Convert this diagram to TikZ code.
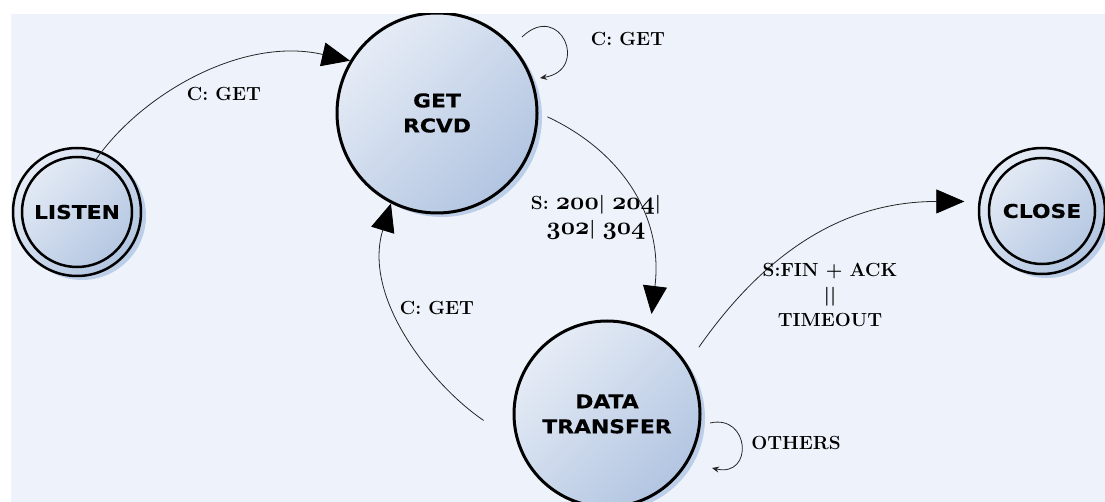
\documentclass[tikz,border=0pt]{standalone}
\usepackage{fontspec}
\usetikzlibrary{arrows.meta,shadows}
\newfontfamily\statefont[FakeStretch=1.15, BoldFeatures={FakeBold=0.4}]{DejaVu Sans}
% old-style bold figures for the transition labels
\newcommand\osn[1]{{\fontsize{24.88}{25}\usefont{OML}{cmm}{b}{it}#1}}
\definecolor{bgblue}{RGB}{238,243,251}
\definecolor{nodelight}{RGB}{230,236,246}
\definecolor{nodedark}{RGB}{178,197,225}
\definecolor{shadowblue}{RGB}{184,202,230}
\begin{document}
\begin{tikzpicture}[x=1pt,y=1pt,
  stnode/.style={circle, draw=black, line width=2.8pt,
    top color=nodelight, bottom color=nodedark, shading angle=45,
    drop shadow={shadow xshift=5pt, shadow yshift=-4pt, fill=shadowblue, opacity=0.9},
    inner sep=0pt, align=center, text=black,
    font=\statefont\bfseries\fontsize{19}{25}\selectfont},
  ringout/.style={stnode, line width=2.5pt},
  ringin/.style={circle, draw=black, line width=2.5pt, inner sep=0pt,
    align=center, text=black, font=\statefont\bfseries\fontsize{19}{25}\selectfont},
  lbl/.style={inner sep=0pt, align=center, text=black,
    font=\bfseries\fontsize{19}{25}\selectfont},
  conn/.style={draw=black!85, line width=0.8pt},
  bigtip/.style={-{Triangle[length=28pt,width=24pt,color=black]}},
  smalltip/.style={-{Stealth[length=7pt,width=6pt]}}]
\useasboundingbox (0,0) rectangle (1105,-502);
\fill[white] (0,0) rectangle (1105,-502);
\fill[bgblue] (11,-14) rectangle (1105,-502);
\begin{scope}
\clip (11,-14) rectangle (1105,-502);

% states
\node[ringout, minimum size=128pt] (listenring) at (77,-212) {};
\node[ringin, minimum size=110pt] (listen) at (77,-212) {LISTEN};
\node[stnode, minimum size=200pt, line width=3pt] (get) at (437,-113) {GET\\RCVD};
\node[stnode, minimum size=186pt, line width=3pt] (data) at (607,-414) {DATA\\TRANSFER};
\node[ringout, minimum size=126pt] (closering) at (1042,-211) {};
\node[ringin, minimum size=106pt] (close) at (1042,-211) {CLOSE};

% loop ends
\coordinate (getloopA) at (522,-37);
\coordinate (getloopB) at (540,-78);
\coordinate (dataloopA) at (710,-423);
\coordinate (dataloopB) at (712,-468);

% transitions
\draw[conn, bigtip] (listen.70) .. controls +(55:80) and +(167:110) .. (get.149);
\draw[conn, smalltip] (getloopA) .. controls +(44:53) and +(9:51) .. (getloopB);
\draw[conn, bigtip] ([shift={(-2:9)}]get.-2) .. controls +(-25:80) and +(83:100) .. ([shift={(66:15)}]data.66);
\draw[conn, bigtip] ([shift={(183:29)}]data.183) .. controls +(146:60) and +(253:100) .. (get.243);
\draw[conn, bigtip] ([shift={(36:19)}]data.36) .. controls +(55:130) and +(180:110) .. ([shift={(173:14)}]closering.173);
\draw[conn, smalltip] (dataloopA) .. controls +(13:41) and +(-13:43) .. (dataloopB);

% transition labels
\node[lbl] (lblA) at (224,-94) {C: GET};
\node[lbl] (lblB) at (628,-39) {C: GET};
\node[lbl] (lblC) at (596,-217) {S: \osn{200}| \osn{204}|\\\osn{302}| \osn{304}};
\node[lbl] (lblD) at (437,-308) {C: GET};
\node[lbl] (lblE) at (830,-295) {S:FIN + ACK\\||\\TIMEOUT};
\node[lbl] (lblF) at (796,-443) {OTHERS};
\end{scope}
\end{tikzpicture}
\end{document}
